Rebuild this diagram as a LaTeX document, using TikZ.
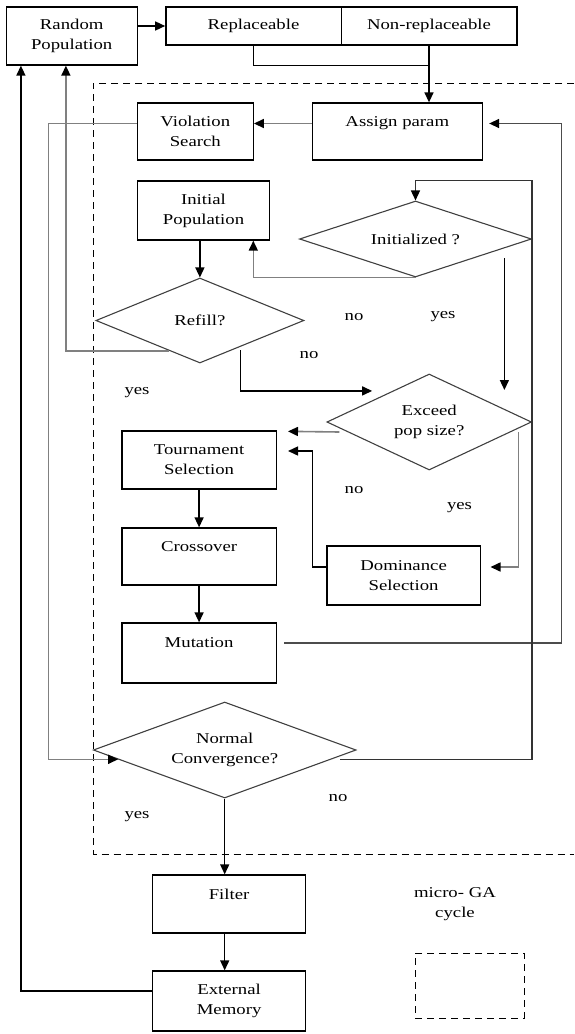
\documentclass[tikz,border=0pt]{standalone}
\usepackage{fontspec}
\setmainfont{Liberation Serif}[FakeStretch=1.25]
\usetikzlibrary{shapes.geometric,arrows.meta}

\begin{document}
\begin{tikzpicture}[x=1pt, y=-1pt, font=\fontsize{15}{20}\selectfont,
  box/.style={draw, line width=1.3pt, align=center, inner sep=0pt},
  decision/.style={diamond, draw=black!75, line width=1.1pt, align=center, inner sep=0pt},
  link/.style={line width=1.4pt},
  glink/.style={line width=1.6pt, draw=black!50},
  arr/.style={-{Triangle[length=10pt, width=9pt, color=black]}},
  lbl/.style={inner sep=0pt},
  frame/.style={line width=1pt, dash pattern=on 7pt off 5pt}]
\useasboundingbox (0,0) rectangle (574,1034);

% micro-GA cycle frame
\draw[frame] (574,83) -- (93.3,83) -- (93.3,854) -- (574,854);

\node[box, minimum width=131pt, minimum height=58pt] (rand) at (71.7,36) {Random\\Population};
\node[box, minimum width=175.3pt, minimum height=38pt] (repl) at (253.5,26) {Replaceable};
\node[box, minimum width=175.7pt, minimum height=38pt] (nonrepl) at (429,26) {Non-replaceable};
\node[box, minimum width=170pt, minimum height=57pt] (assign) at (397.3,131.5) {Assign param\\\mbox{}};
\node[box, minimum width=116pt, minimum height=57pt] (viol) at (195.3,131.5) {Violation\\Search};
\node[box, minimum width=132.5pt, minimum height=59pt] (init) at (203.5,210.5) {Initial\\Population};
\node[decision, aspect=3.05, minimum width=232pt, minimum height=76pt] (initq) at (415.5,239) {Initialized ?};
\node[decision, aspect=2.45, minimum width=208pt, minimum height=85pt] (refill) at (199.9,320.5) {Refill?};
\node[decision, aspect=2.13, minimum width=204.6pt, minimum height=96pt] (exceed) at (429.2,422) {Exceed\\pop size?};
\node[box, minimum width=154.5pt, minimum height=58pt] (tourn) at (199.1,460) {Tournament\\Selection};
\node[box, minimum width=154.5pt, minimum height=57pt] (cross) at (199.1,556.5) {Crossover\\\mbox{}};
\node[box, minimum width=154.5pt, minimum height=60pt] (mut) at (199.1,653) {Mutation\\\mbox{}};
\node[box, minimum width=153.3pt, minimum height=59pt] (dom) at (403.6,575.5) {Dominance\\Selection};
\node[decision, aspect=2.74, minimum width=262.8pt, minimum height=96pt] (conv) at (224.7,750) {Normal\\Convergence?};
\node[box, minimum width=153pt, minimum height=58pt] (filter) at (229.1,904) {Filter\\\mbox{}};
\node[box, minimum width=153pt, minimum height=60pt] (extmem) at (229.1,1001) {External\\Memory};

% legend
\node[lbl, align=center] (legtext) at (455,904) {micro- GA\\cycle};
\node[frame, draw, minimum width=108.8pt, minimum height=65pt, inner sep=0pt] (legbox) at (469.8,985.5) {};

% branch labels
\node[lbl] (no1) at (354,317) {no};
\node[lbl] (yes1) at (443,317) {yes};
\node[lbl] (no2) at (309,355) {no};
\node[lbl] (yes2) at (137,393) {yes};
\node[lbl] (no3) at (354,490) {no};
\node[lbl] (yes3) at (459.5,508) {yes};
\node[lbl] (no4) at (338,798) {no};
\node[lbl] (yes4) at (137,817) {yes};

\coordinate (yestop) at (504.4,258);
\coordinate (yesend) at (504.4,390);

% connectors
\draw[link, arr] (rand.east |- repl.west) -- (repl.west);
\draw[link] (repl.south) |- (nonrepl.south |- rand.south);
\draw[link, arr] (nonrepl.south) -- (nonrepl.south |- assign.north);
\draw[glink, arr] ([yshift=8pt]assign.west) -- ([yshift=8pt]viol.east);
\draw[glink, arr] ([yshift=8pt]viol.west) -- ++(-88,0) |- (conv.185);
\draw[glink, arr] (refill.225) -| ([xshift=-5.8pt]rand.south);
\draw[link, arr] ([yshift=10pt]extmem.west) -| ([xshift=-50.8pt]rand.south);
\draw[link, arr] (refill.north |- init.south) -- (refill.north);
\draw[glink, arr] (initq.south) -| ([xshift=49.8pt]init.south);
\draw[link, arr] (yestop) -- (yesend);
\draw[link, arr, shorten >=20pt] ([xshift=8pt]refill.-42) |- (exceed.140);
\draw[glink, arr] ([xshift=13pt,yshift=-10pt]exceed.west) -- ([xshift=11pt,yshift=-1pt]tourn.north east);
\draw[glink, arr] ([xshift=-13.6pt,yshift=-10pt]exceed.east) |- ([xshift=9.6pt,yshift=8.5pt]dom.east);
\draw[link, arr] ([yshift=8.5pt]dom.west) -- ++(-13.9,0) |- ([xshift=11pt,yshift=9pt]tourn.east);
\draw[link, arr] (tourn.south) -- (cross.north);
\draw[link, arr] (cross.south) -- (mut.north);
\draw[link, draw=black!70, arr] ([xshift=7.3pt,yshift=10pt]mut.east) -- ++(277.4,0) |- ([xshift=6.2pt,yshift=8pt]assign.east);
\draw[link, draw=black!80, arr] ([xshift=9pt]conv.-5) -| (initq.east |- init.north) -| (initq.north);
\draw[link, arr] (conv.south) -- (conv.south |- filter.north);
\draw[link, arr] (conv.south |- filter.south) -- (conv.south |- extmem.north);
\end{tikzpicture}
\end{document}
